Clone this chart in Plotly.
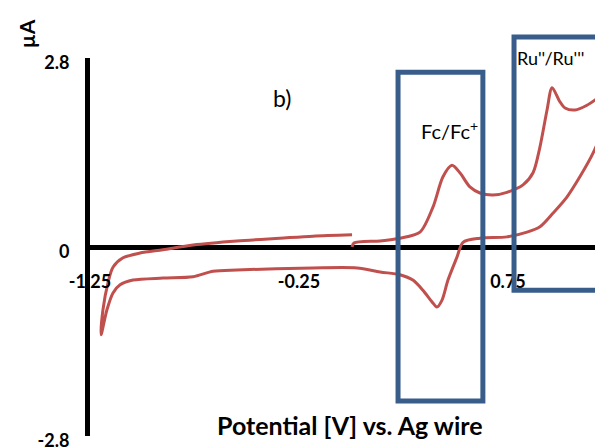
import plotly.graph_objects as go

# Cyclic voltammogram (single continuous scan), potential in V, current in uA
potential = [0.004, 0.013, 0.138, 0.233, 0.329, 0.391, 0.439, 0.482, 0.520, 0.568,
             0.616, 0.678, 0.745, 0.822, 0.870, 0.903, 0.937, 0.961, 0.999, 1.023,
             1.071, 1.128, 1.200, 1.225,
             1.200, 1.157, 1.094, 1.032, 0.965, 0.903, 0.841, 0.745, 0.616, 0.535,
             0.506, 0.463, 0.434, 0.410, 0.386, 0.343, 0.295, 0.233, 0.138, 0.028,
             -0.183, -0.547, -0.661, -0.757, -0.901, -1.044, -1.106, -1.140, -1.169,
             -1.197, -1.188, -1.164, -1.140, -1.092, -1.011, -0.901, -0.757, -0.547,
             -0.341, -0.183, 0.004]
current = [0.00, 0.06, 0.09, 0.13, 0.22, 0.59, 1.04, 1.21, 1.10, 0.89,
           0.80, 0.77, 0.81, 0.92, 1.10, 1.48, 2.03, 2.36, 2.15, 2.06,
           2.03, 2.10, 2.25, 2.30,
           1.73, 1.39, 1.04, 0.74, 0.50, 0.30, 0.22, 0.15, 0.13, 0.07,
           -0.15, -0.49, -0.79, -0.89, -0.81, -0.64, -0.49, -0.41, -0.37, -0.31,
           -0.31, -0.34, -0.36, -0.44, -0.46, -0.49, -0.56, -0.68, -0.93,
           -1.30, -0.93, -0.53, -0.30, -0.16, -0.09, -0.04, 0.03, 0.09,
           0.13, 0.16, 0.18]

x_range = [-1.25, 1.20]
y_range = [-2.8, 2.8]
x_ticks = [-1.25, -0.25, 0.75]
x_tick_text = ["-1.25", "-0.25", "0.75"]
y_ticks = [-2.8, 0, 2.8]
y_tick_text = ["-2.8", "0", "2.8"]

# highlight boxes (data coordinates): x0, x1, y0, y1
box_fc = [0.224, 0.630, -2.28, 2.59]
box_ru = [0.779, 1.190, -0.64, 3.11]

FONT = "Lato"
RED = "#C0504D"
BLUE = "#385D8A"


def px(x):
    return (x - x_range[0]) / (x_range[1] - x_range[0])


def py(y):
    return (y - y_range[0]) / (y_range[1] - y_range[0])


fig = go.Figure()
fig.add_trace(go.Scatter(x=potential, y=current, mode="lines",
                         line=dict(color=RED, width=3, shape="spline", smoothing=0.8),
                         showlegend=False, hoverinfo="skip"))

for b in (box_fc, box_ru):
    fig.add_shape(type="rect", xref="paper", yref="paper",
                  x0=px(b[0]), x1=px(b[1]), y0=py(b[2]), y1=py(b[3]),
                  line=dict(color=BLUE, width=5), fillcolor="rgba(0,0,0,0)")

fig.update_layout(
    width=595, height=439,
    margin=dict(l=82, r=1, t=50, b=11),
    paper_bgcolor="white", plot_bgcolor="white",
    font=dict(family=FONT, color="black"),
    xaxis=dict(range=x_range, tickvals=x_ticks, ticktext=x_tick_text,
               showgrid=False, zeroline=False, showline=False, ticks="",
               anchor="free", position=0.5, ticklabelstandoff=22, automargin=False,
               tickfont=dict(family=FONT, size=18, color="black", weight="bold")),
    yaxis=dict(range=y_range, tickvals=y_ticks, ticktext=y_tick_text,
               showgrid=False, zeroline=True, zerolinecolor="black", zerolinewidth=5,
               showline=True, linecolor="black", linewidth=5, ticks="",
               ticklabelstandoff=12, ticklabelshift=5, ticklabeloverflow="allow",
               automargin=False,
               tickfont=dict(family=FONT, size=18, color="black", weight="bold")),
    annotations=[
        dict(text="<b>µA</b>", xref="paper", yref="paper", x=-0.125, y=1.063,
             showarrow=False, textangle=-90, font=dict(size=21, family=FONT),
             xanchor="center", yanchor="middle"),
        dict(text="<b>Potential [V] vs. Ag wire</b>", xref="paper", yref="paper",
             x=px(-0.005), y=py(-2.63), showarrow=False,
             font=dict(size=25, family=FONT), xanchor="center", yanchor="middle"),
        dict(text="b)", xref="paper", yref="paper", x=px(-0.33), y=py(2.20),
             showarrow=False, font=dict(size=23, family=FONT),
             xanchor="center", yanchor="middle"),
        dict(text="Fc/Fc<sup>+</sup>", xref="paper", yref="paper",
             x=px(0.47), y=py(1.73), showarrow=False,
             font=dict(size=20, family=FONT), xanchor="center", yanchor="middle"),
        dict(text="Ru''/Ru'''", xref="paper", yref="paper",
             x=px(0.956), y=py(2.80), showarrow=False,
             font=dict(size=18, family=FONT), xanchor="center", yanchor="middle"),
    ],
)

fig.write_html("out.html")
